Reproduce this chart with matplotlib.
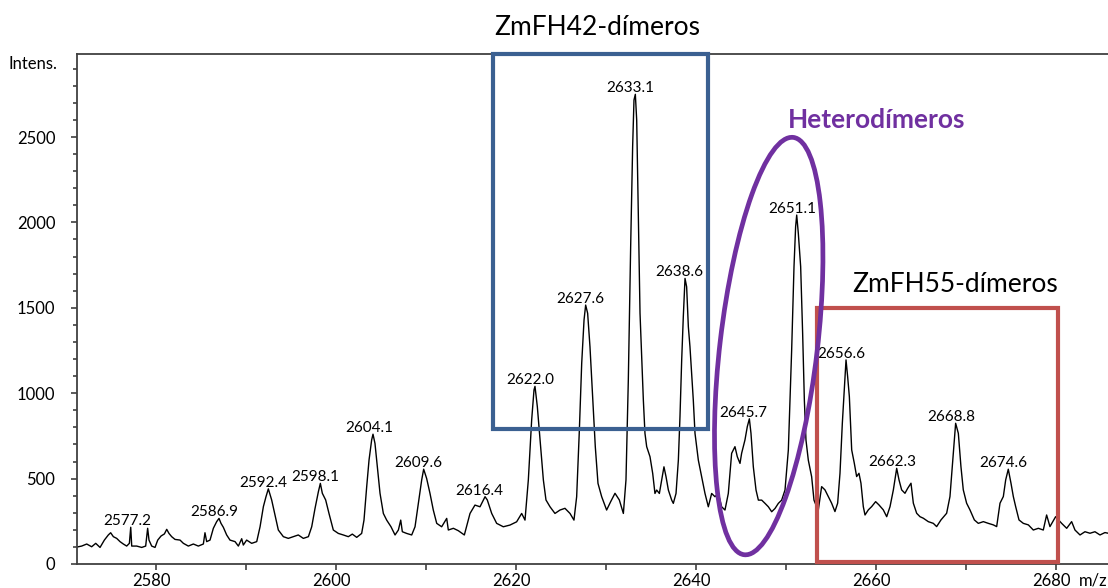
import matplotlib
matplotlib.use("Agg")
import matplotlib.pyplot as plt
from matplotlib.patches import Rectangle, Ellipse
from matplotlib.transforms import ScaledTranslation
from matplotlib.ticker import MultipleLocator

# Spectrum (m/z, intensity)
mz = [
    2571.00, 2571.74, 2572.30, 2572.85, 2573.30, 2573.78, 2574.26, 2574.70, 2574.96, 2575.26,
    2575.63, 2576.00, 2576.37, 2576.74, 2577.04, 2577.19, 2577.30, 2577.85, 2578.41, 2578.85,
    2579.07, 2579.22, 2579.52, 2579.89, 2580.19, 2580.56, 2580.93, 2581.19, 2581.44, 2581.74,
    2582.11, 2582.67, 2583.04, 2583.59, 2584.15, 2584.70, 2585.26, 2585.44, 2585.63, 2586.00,
    2586.37, 2586.74, 2587.00, 2587.22, 2587.48, 2587.85, 2588.22, 2588.78, 2589.15, 2589.52,
    2589.70, 2590.07, 2590.63, 2591.19, 2591.56, 2591.93, 2592.22, 2592.48,
    2592.85, 2593.22, 2593.59, 2594.15, 2594.70, 2595.26, 2595.81, 2596.37, 2596.93, 2597.30,
    2597.67, 2598.04, 2598.26, 2598.48, 2598.85, 2599.22, 2599.70, 2600.26, 2600.81, 2601.37,
    2601.81, 2602.30, 2602.85, 2603.11, 2603.41, 2603.67, 2603.96, 2604.11, 2604.33, 2604.63,
    2604.89, 2605.26, 2605.63, 2606.11, 2606.56, 2606.93, 2607.19, 2607.37, 2607.85, 2608.41,
    2608.78, 2609.15, 2609.52, 2609.74, 2610.07, 2610.44, 2610.81, 2611.19, 2611.74, 2612.30,
    2612.48, 2613.04, 2613.59, 2614.26,
    2614.89, 2615.44, 2616.00, 2616.56, 2616.81, 2617.30, 2617.85, 2618.59, 2619.33, 2620.07,
    2620.63, 2621.00, 2621.37, 2621.74, 2622.00, 2622.11, 2622.37, 2622.67, 2623.04, 2623.33,
    2623.78, 2624.33, 2624.89, 2625.44, 2626.00, 2626.44, 2626.74, 2627.04, 2627.30, 2627.56,
    2627.74, 2627.96, 2628.22, 2628.52, 2628.81, 2629.11, 2629.52, 2630.07, 2630.52, 2631.00,
    2631.48, 2631.93, 2632.22, 2632.48, 2632.74, 2632.96, 2633.11, 2633.26, 2633.41, 2633.59,
    2633.78,
    2634.15, 2634.33, 2634.52, 2634.89, 2635.19, 2635.44, 2635.63, 2635.93, 2636.19, 2636.44,
    2636.67, 2636.93, 2637.30, 2637.48, 2637.78, 2638.04, 2638.22, 2638.41, 2638.59, 2638.78,
    2638.96, 2639.15, 2639.33, 2639.52, 2639.70, 2639.89, 2640.26, 2640.63, 2641.00, 2641.37,
    2641.74, 2642.11, 2642.48, 2642.85, 2643.22, 2643.59, 2643.96, 2644.33, 2644.59, 2644.89,
    2645.07, 2645.44, 2645.70, 2645.93, 2646.11, 2646.37, 2646.67, 2646.93, 2647.30, 2647.67,
    2648.04, 2648.41, 2648.78, 2649.15, 2649.52, 2649.89, 2650.26, 2650.63, 2650.89, 2651.07,
    2651.19, 2651.37, 2651.63, 2651.85, 2652.04, 2652.22, 2652.48, 2652.85, 2653.11, 2653.41,
    2653.59, 2653.96, 2654.33, 2654.70, 2655.07, 2655.44, 2655.74, 2656.00, 2656.26, 2656.48,
    2656.67, 2656.85, 2657.04, 2657.30, 2657.59, 2657.85, 2658.11, 2658.33, 2658.59, 2658.78,
    2659.15, 2659.52, 2659.96, 2660.33, 2660.81, 2661.19, 2661.56, 2661.93, 2662.30, 2662.56,
    2662.85, 2663.22, 2663.52, 2663.89, 2664.15, 2664.52, 2664.89, 2665.26, 2665.81, 2666.37,
    2666.74, 2667.22, 2667.85, 2668.22, 2668.59, 2668.85, 2669.15, 2669.44, 2669.70, 2670.07,
    2670.44, 2670.93, 2671.37, 2671.93, 2672.48, 2673.04, 2673.41, 2673.78, 2674.15, 2674.41,
    2674.70, 2675.00, 2675.26, 2675.52, 2675.89, 2676.37, 2676.93, 2677.48, 2678.04, 2678.59,
    2678.96, 2679.33, 2679.96, 2680.63, 2681.19, 2681.74, 2682.11, 2682.67, 2683.22, 2683.78,
    2684.33, 2684.89, 2685.44, 2685.81,
]
intens = [
    97, 105, 117, 101, 121, 97, 140, 170, 183, 160,
    150, 131, 117, 105, 121, 215, 105, 105, 97, 105,
    209, 140, 105, 97, 140, 164, 176, 203, 179, 160,
    144, 140, 121, 105, 117, 105, 117, 183, 131, 140,
    209, 248, 267, 238, 215, 170, 140, 131, 105, 148,
    111, 140, 121, 131, 218, 336, 394, 440,
    375, 287, 199, 160, 150, 160, 170, 150, 160, 218,
    326, 423, 472, 414, 375, 296, 199, 179, 170, 160,
    175, 156, 179, 257, 453, 609, 726, 760, 706, 550,
    414, 296, 257, 218, 170, 199, 257, 189, 179, 170,
    218, 355, 492, 555, 501, 414, 316, 238, 218, 267,
    199, 209, 195, 170,
    296, 345, 335, 394, 375, 296, 238, 218, 228, 247,
    296, 257, 492, 843, 1019, 1040, 921, 726, 492, 375,
    335, 296, 316, 326, 296, 257, 394, 784, 1175, 1429,
    1516, 1468, 1272, 980, 687, 472, 394, 316, 365, 414,
    375, 296, 492, 1077, 1858, 2444, 2717, 2750, 2600, 2053,
    1468,
    960, 765, 687, 628, 530, 413, 433, 413, 491, 569,
    511, 433, 374, 355, 413, 608, 862, 1194, 1448, 1672,
    1623, 1389, 1272, 1116, 960, 765, 608, 511, 413, 335,
    413, 394, 413, 335, 316, 413, 648, 687, 628, 589,
    648, 726, 804, 850, 765, 569, 433, 374, 374, 355,
    335, 306, 325, 355, 374, 433, 667, 1253, 1741, 1975,
    2043, 1936, 1741, 1350, 960, 726, 608, 511, 374, 335,
    316, 453, 434, 395, 356, 307, 356, 531, 824, 1019,
    1195, 1097, 980, 668, 590, 512, 531, 473, 336, 287,
    317, 336, 365, 346, 317, 277, 336, 434, 560, 492,
    434, 414, 443, 473, 356, 297, 277, 268, 248, 238,
    219, 258, 297, 395, 648, 824, 765, 570, 434, 356,
    317, 258, 238, 248, 238, 229, 219, 356, 395, 492,
    555, 473, 395, 336, 258, 238, 229, 199, 209, 199,
    287, 219, 277, 238, 209, 248, 199, 170, 189, 180,
    189, 170, 184, 180,
]

# Peak labels and the height of each labelled peak
peak_labels = ["2577.2", "2586.9", "2592.4", "2598.1", "2604.1", "2609.6",
               "2616.4", "2622.0", "2627.6", "2633.1", "2638.6", "2645.7",
               "2651.1", "2656.6", "2662.3", "2668.8", "2674.6"]
peak_top = [215, 267, 440, 472, 760, 555, 394, 1040, 1516, 2750, 1672, 850,
            2043, 1195, 560, 824, 555]

plt.rcParams['font.family'] = ['Lato', 'DejaVu Sans']

W, H = 1108, 588
fig = plt.figure(figsize=(W / 100, H / 100), dpi=100)
ax = fig.add_axes([77 / W, 24 / H, 1 - 77 / W, (564 - 54) / H])

ax.plot(mz, intens, color='black', lw=1.0)

ax.set_xlim(2571.22, 2685.78)
ax.set_ylim(0, 2986)

ax.spines['right'].set_visible(False)
for s in ['top', 'left', 'bottom']:
    ax.spines[s].set_color('#404040')
    ax.spines[s].set_linewidth(1.3)

ax.xaxis.set_major_locator(MultipleLocator(20))
ax.xaxis.set_minor_locator(MultipleLocator(10))
ax.yaxis.set_major_locator(MultipleLocator(500))
ax.yaxis.set_minor_locator(MultipleLocator(100))
ax.tick_params(which='both', direction='out', color='#404040', width=1.2,
               labelsize=12, labelcolor='black')
ax.tick_params(axis='x', which='both', length=4.3, pad=2.5)
ax.tick_params(axis='y', which='major', length=4.5, pad=11)
ax.tick_params(axis='y', which='minor', length=3)

# peak labels
for lab, top in zip(peak_labels, peak_top):
    ax.annotate(lab, (float(lab), top), xytext=(-4, 2), textcoords='offset pixels',
                ha='center', va='baseline', fontsize=11)

# group boxes
ax.add_patch(Rectangle((2617.48, 789), 2641.37 - 2617.48, 2986 - 789, fill=False,
                       ec='#3B6091', lw=3, clip_on=False, zorder=4))
ax.add_patch(Rectangle((2653.41, 13), 2680.26 - 2653.41, 1497 - 13, fill=False,
                       ec='#C0504D', lw=3, clip_on=False, zorder=4))
ell_tr = fig.dpi_scale_trans + ScaledTranslation(2648.08, 1276, ax.transData)
ax.add_patch(Ellipse((0, 0), 0.974, 4.202, angle=-6.7, fill=False, ec='#7030A0',
                     lw=3.4, transform=ell_tr, clip_on=False, zorder=4))

ax.text(2629.0, 3144, "ZmFH42-dímeros", ha='center', va='center', fontsize=19, clip_on=False)
ax.text(2668.78, 1634, "ZmFH55-dímeros", ha='center', va='center', fontsize=19)
ax.text(2660.08, 2600, "Heterodímeros", ha='center', va='center', fontsize=19,
        fontweight='bold', color='#7030A0')

fig.text(32.5 / W, 1 - 64 / H, "Intens.", ha='center', va='center', fontsize=12)
fig.text(1093 / W, 1 - 580 / H, "m/z", ha='center', va='center', fontsize=12)

fig.canvas.draw()
for lbl in ax.get_xticklabels():
    lbl.set_transform(lbl.get_transform() + ScaledTranslation(-0.05, 0, fig.dpi_scale_trans))

fig.savefig('out.png', dpi=100)
